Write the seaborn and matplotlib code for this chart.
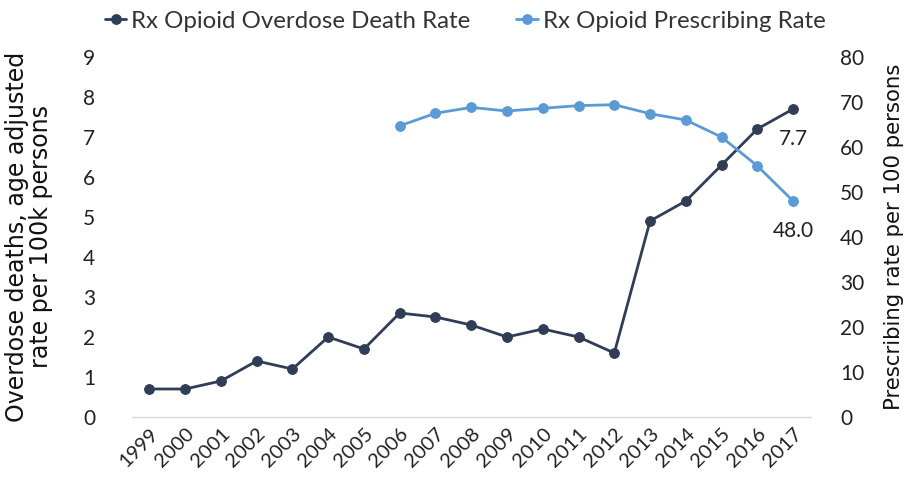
import matplotlib
matplotlib.use("Agg")
import matplotlib.pyplot as plt
import seaborn as sns
import pandas as pd
import numpy as np

years = list(range(1999, 2018))
death_rate = [0.7, 0.7, 0.9, 1.4, 1.2, 2.0, 1.7, 2.6, 2.5, 2.3, 2.0, 2.2, 2.0, 1.6,
              4.9, 5.4, 6.3, 7.2, 7.7]
presc_years = list(range(2006, 2018))
presc_rate = [64.7, 67.5, 68.8, 68.0, 68.6, 69.2, 69.4, 67.4, 66.0, 62.2, 55.8, 48.0]

death_label = "Rx Opioid Overdose Death Rate"
presc_label = "Rx Opioid Prescribing Rate"
left_ylabel = "Overdose deaths, age adjusted\nrate per 100k persons"
right_ylabel = "Prescribing rate per 100 persons"

dark = "#2F3E56"
light = "#5B9BD5"

sns.set_theme(style="white")
plt.rcParams['font.family'] = ['Lato', 'DejaVu Sans']

df_d = pd.DataFrame({"year": years, "rate": death_rate})
df_p = pd.DataFrame({"year": presc_years, "rate": presc_rate})

W, H = 914, 498
ax_left, ax_right, ax_top, ax_bottom = 131.5, 811, 57, 417
fig = plt.figure(figsize=(W / 100, H / 100), dpi=100)
ax = fig.add_axes([ax_left / W, (H - ax_bottom) / H, (ax_right - ax_left) / W,
                   (ax_bottom - ax_top) / H])
ax2 = ax.twinx()

sns.lineplot(data=df_d, x="year", y="rate", ax=ax, color=dark, marker="o",
             markersize=7, linewidth=2, markeredgecolor=dark, label=death_label, legend=False)
sns.lineplot(data=df_p, x="year", y="rate", ax=ax2, color=light, marker="o",
             markersize=7, linewidth=2, markeredgecolor=light, label=presc_label, legend=False)

ax.set_xlim(1998.5, 2017.5)
ax.set_ylim(0, 9)
ax2.set_ylim(0, 80)
ax.set_yticks(range(0, 10))
ax2.set_yticks(range(0, 81, 10))
ax.set_xticks(years)
ax.set_xticklabels([str(y) for y in years], rotation=45, ha="right",
                   rotation_mode="anchor", fontsize=14.5, color="#222222")
ax.set_xticks(np.arange(1998.5, 2018, 1), minor=True)
ax.tick_params(axis="x", which="major", length=0, pad=6)
ax.tick_params(axis="x", which="minor", length=6, color="#d9d9d9", width=1, direction="out")
ax.tick_params(axis="y", length=0, pad=26, labelsize=15, labelcolor="#222222")
ax2.tick_params(axis="y", length=0, pad=21, labelsize=15, labelcolor="#222222")

for a in (ax, ax2):
    for s in ("left", "right", "top", "bottom"):
        a.spines[s].set_visible(False)
    a.grid(False)
ax.spines["bottom"].set_visible(True)
ax.spines["bottom"].set_color("#d9d9d9")
ax.spines["bottom"].set_linewidth(1)

ax.set_xlabel("")
aw = ax_right - ax_left
ax.set_ylabel(left_ylabel, fontsize=17, color="#111111", linespacing=0.95,
              family="DejaVu Sans", ha="center", va="center")
ax.yaxis.set_label_coords((29 - ax_left) / aw, 0.5)
ax2.set_ylabel(right_ylabel, fontsize=16, color="#111111", family="DejaVu Sans",
               ha="center", va="center")
ax2.yaxis.set_label_coords((894 - ax_left) / aw, 0.5)

# fit label lengths to reference
fig.canvas.draw()
r = fig.canvas.get_renderer()
for lab, target in ((ax.yaxis.label, 372), (ax2.yaxis.label, 350)):
    h = lab.get_window_extent(r).height
    lab.set_fontsize(lab.get_fontsize() * target / h)

ax.annotate(f"{death_rate[-1]:.1f}", xy=(years[-1], death_rate[-1]), xytext=(0, -30),
            textcoords="offset pixels", ha="center", va="center", fontsize=15, color="#222222")
ax2.annotate(f"{presc_rate[-1]:.1f}", xy=(presc_years[-1], presc_rate[-1]), xytext=(0, -30),
             textcoords="offset pixels", ha="center", va="center", fontsize=15, color="#222222")

h1, l1 = ax.get_legend_handles_labels()
h2, l2 = ax2.get_legend_handles_labels()
fig.legend(h1 + h2, l1 + l2, loc="center", bbox_to_anchor=(465 / W, 1 - 21 / H),
           ncol=2, frameon=False, fontsize=17.3, handlelength=0.9, handletextpad=0.2,
           columnspacing=1.9, labelcolor="#333333")

fig.savefig("out.png", dpi=100)
